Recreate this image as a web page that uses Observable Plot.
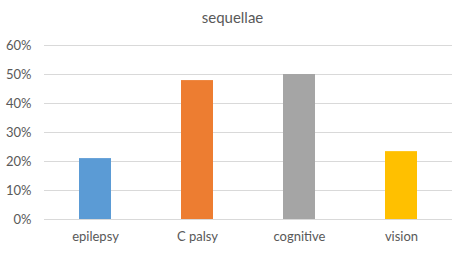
<!DOCTYPE html>
<html><head><meta charset="utf-8">
<script src="https://cdn.jsdelivr.net/npm/d3@7"></script>
<script src="https://cdn.jsdelivr.net/npm/@observablehq/plot@0.6"></script>
<style>
body{margin:0;background:#fff;font-family:Lato,"Open Sans",sans-serif;}
#title{height:30px;line-height:34px;text-align:center;font-size:15px;color:#595959;}
</style></head><body>
<div id="title">sequellae</div>
<div id="chart"></div>
<script>
const categories = ["epilepsy","C palsy","cognitive","vision"];
const values = [0.21, 0.479, 0.50, 0.234];
const colors = ["#5B9BD5","#ED7D31","#A5A5A5","#FFC000"];
const yTicks = [0,0.1,0.2,0.3,0.4,0.5,0.6];
const data = categories.map((c,i)=>({category:c,value:values[i]}));
const chart = Plot.plot({
  width:465, height:223,
  marginTop:15, marginBottom:34, marginLeft:44, marginRight:13,
  style:{fontFamily:"Lato, 'Open Sans', sans-serif", fontSize:"13px", color:"#595959", background:"#fff"},
  x:{domain:categories, paddingInner:0.686, paddingOuter:0.343, label:null, tickSize:0, tickPadding:12},
  y:{domain:[0,0.6], ticks:yTicks, tickFormat:d=>Math.round(d*100)+"%", label:null, tickSize:0, tickPadding:13},
  color:{domain:categories, range:colors},
  marks:[
    Plot.ruleY(yTicks,{stroke:"#D9D9D9", strokeWidth:1}),
    Plot.barY(data,{x:"category", y:"value", fill:"category"})
  ]
});
document.getElementById("chart").appendChild(chart);
</script></body></html>
